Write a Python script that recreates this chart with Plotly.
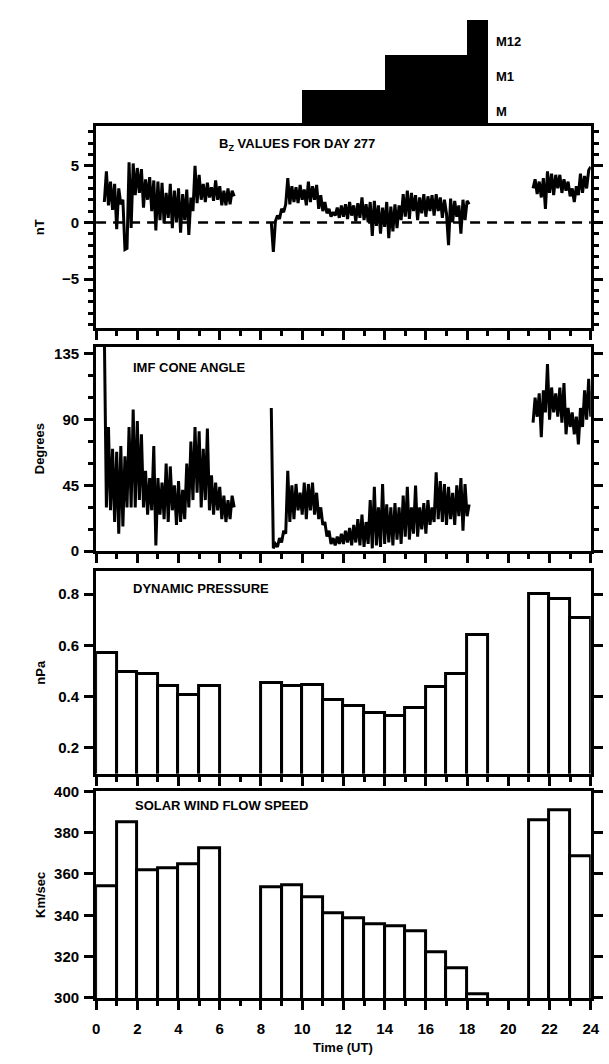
import plotly.graph_objects as go

# ---------------------------------------------------------------- data
SAMPLE_STEP = 0.1  # hours between plotted samples

# Bz (nT), three data intervals: start hour + samples
bz_start_1 = 0.4
bz_vals_1 = [1.8, 4.5, 1.5, 3.6, 1.1, 3.4, -0.6,
             3.0, 1.6, 2.0, -2.4, -2.3, 5.3, -0.5, 5.2, 2.4, 4.8,
             2.6, 4.7, 1.3, 3.8, 2.0, 4.0, 1.0, 3.7, -0.7, 3.6,
             0.2, 3.5, -0.1, 2.6, 0.4, 3.4, -0.5, 2.8, 0.0, 3.0,
             -0.9, 2.5, 0.2, 2.9, -1.1, 2.2, 1.0, 5.0, 1.7, 4.2,
             2.0, 3.4, 1.8, 3.5, 2.2, 3.1, 1.9, 3.7, 2.0, 3.2,
             1.5, 2.8, 1.5, 3.0, 1.6, 2.8, 2.3]
bz_start_2 = 8.5
bz_vals_2 = [0.0, -2.6, 0.1, 0.6, 0.3,
             1.2, 0.9, 1.6, 3.9, 1.6, 3.2, 1.8, 3.1, 1.7, 3.3,
             2.0, 2.9, 1.5, 3.6, 1.8, 3.2, 2.0, 3.3, 1.2, 2.4,
             1.0, 1.8, 0.8, 1.2, 0.5, 0.9, 0.6, 1.3, 0.4, 1.5,
             0.5, 1.6, 0.3, 1.8, 0.6, 1.5, 0.1, 1.7, 0.4, 2.2,
             0.2, 1.6, 0.0, 1.8, -1.2, 1.9, -0.3, 1.5, -1.0, 1.3,
             -0.4, 1.8, -1.4, 1.4, -0.8, 1.6, -0.5, 1.5, 0.2, 2.5,
             0.5, 2.8, 0.3, 2.6, 1.0, 2.4, 0.2, 2.2, 0.8, 2.5,
             0.5, 2.3, 1.0, 2.4, 0.6, 2.5, 1.0, 2.2, 0.4, 2.0,
             0.8, -2.0, 2.1, 0.0, 1.9, 0.5, 1.5, -1.0, 2.0, 0.2,
             1.9, 1.6]
bz_start_3 = 21.2
bz_vals_3 = [3.0, 3.8, 2.5, 3.6, 2.2, 3.9, 1.2, 4.5,
             2.6, 4.3, 2.4, 4.2, 3.0, 4.2, 2.6, 3.8, 2.8, 3.6,
             2.3, 3.0, 1.8, 3.2, 2.4, 4.3, 2.6, 4.1, 3.0, 4.6,
             4.9]

# IMF cone angle (degrees)
cone_start_1 = 0.4
cone_vals_1 = [150, 30, 85, 28, 70, 20, 68,
               12, 72, 17, 65, 30, 85, 30, 97, 30, 89,
               35, 80, 30, 55, 25, 50, 28, 72, 4, 50,
               25, 47, 22, 60, 20, 58, 28, 45, 18, 48,
               20, 42, 22, 60, 30, 75, 35, 85, 40, 82,
               30, 70, 35, 84, 28, 52, 25, 47, 28, 44,
               22, 38, 20, 35, 22, 38, 30]
cone_start_2 = 8.5
cone_vals_2 = [98, 2, 5, 3, 9,
               6, 14, 12, 55, 20, 45, 22, 46, 28, 40,
               25, 47, 22, 46, 28, 47, 25, 40, 22, 30,
               18, 20, 10, 14, 5, 9, 4, 10, 5, 12,
               5, 14, 6, 16, 4, 18, 6, 22, 4, 25,
               3, 20, 5, 35, 2, 44, 4, 30, 3, 46,
               5, 32, 6, 30, 4, 33, 8, 30, 5, 38,
               10, 44, 8, 30, 12, 45, 10, 30, 15, 33,
               12, 35, 18, 30, 20, 54, 22, 48, 20, 46,
               18, 44, 22, 40, 18, 45, 24, 50, 14, 46,
               24, 32]
cone_start_3 = 21.2
cone_vals_3 = [88, 105, 92, 108, 78, 110, 95, 128,
               90, 112, 95, 108, 92, 112, 88, 115, 80, 98,
               85, 95, 80, 92, 73, 98, 85, 110, 90, 118,
               92]

# Hourly averages: hour start (UT) and value
hour_start = [0, 1, 2, 3, 4, 5, 8, 9, 10, 11, 12, 13, 14, 15, 16, 17, 18, 21, 22, 23]
pressure_npa = [0.57, 0.495, 0.487, 0.442, 0.406, 0.44, 0.453, 0.442, 0.445, 0.386,
                0.362, 0.335, 0.324, 0.356, 0.438, 0.488, 0.642, 0.80, 0.78, 0.705]
speed_hour_start = [0, 1, 2, 3, 4, 5, 8, 9, 10, 11, 12, 13, 14, 15, 16, 17, 18, 21, 22, 23]
speed_kms = [353.9, 385.0, 361.8, 362.6, 364.6, 372.6, 353.6, 354.7, 348.6, 340.8,
             338.7, 335.5, 334.7, 332.0, 322.2, 314.4, 301.6, 385.8, 390.6, 368.3]

# Magnetometer coverage intervals
station_names = ["M", "M1", "M12"]
station_start = [10, 14, 18]
station_end = [19, 19, 19]

x_ticks = list(range(0, 25, 2))


def series(*segments):
    """Join (start, values) segments into x/y lists with gaps between them."""
    xs, ys = [], []
    for start, vals in segments:
        if xs:
            xs.append(None)
            ys.append(None)
        for i, v in enumerate(vals):
            xs.append(round(start + i * SAMPLE_STEP, 3))
            ys.append(v)
    return xs, ys


bz_x, bz_y = series((bz_start_1, bz_vals_1), (bz_start_2, bz_vals_2), (bz_start_3, bz_vals_3))
cone_x, cone_y = series((cone_start_1, cone_vals_1), (cone_start_2, cone_vals_2),
                        (cone_start_3, cone_vals_3))

# ---------------------------------------------------------------- figure
FONT = "Liberation Sans, Arial, Helvetica, sans-serif"
BLACK = "#000000"

fig = go.Figure()

# station coverage staircase
fig.add_trace(go.Bar(
    y=station_names,
    x=[e - s for s, e in zip(station_start, station_end)],
    base=station_start,
    orientation="h",
    marker=dict(color=BLACK, line=dict(width=0)),
    xaxis="x", yaxis="y",
))

fig.add_trace(go.Scatter(x=bz_x, y=bz_y, mode="lines",
                         line=dict(color=BLACK, width=3),
                         connectgaps=False, xaxis="x2", yaxis="y2"))

fig.add_trace(go.Scatter(x=cone_x, y=cone_y, mode="lines",
                         line=dict(color=BLACK, width=3),
                         connectgaps=False, xaxis="x3", yaxis="y3"))

fig.add_trace(go.Bar(x=hour_start, y=pressure_npa, width=1, offset=0,
                     marker=dict(color="white", line=dict(color=BLACK, width=3)),
                     xaxis="x4", yaxis="y4"))

fig.add_trace(go.Bar(x=speed_hour_start, y=speed_kms, width=1, offset=0,
                     marker=dict(color="white", line=dict(color=BLACK, width=3)),
                     xaxis="x5", yaxis="y5"))

X_DOMAIN = [0.1545, 0.9845]
tick_font = dict(family=FONT, size=15, color=BLACK, weight="bold")


def panel_x(show_labels=False):
    return dict(
        domain=X_DOMAIN, range=[0, 24], showline=True, linewidth=3, linecolor=BLACK,
        mirror=True, ticks="outside", ticklen=9, tickwidth=3, tickcolor=BLACK,
        tickmode="array", tickvals=x_ticks, showticklabels=show_labels,
        tickfont=tick_font, showgrid=False, zeroline=False, ticklabelstandoff=6,
        minor=dict(dtick=1, tick0=0, ticks="outside", ticklen=5, tickwidth=3,
                   tickcolor=BLACK, showgrid=False),
    )


def panel_y(domain, rng, dtick, minor_dtick=None, fmt=None):
    ax = dict(
        domain=domain, range=rng, showline=True, linewidth=3, linecolor=BLACK,
        mirror="ticks", ticks="outside", ticklen=9, tickwidth=3, tickcolor=BLACK,
        dtick=dtick, tick0=0, tickfont=tick_font, showgrid=False, zeroline=False,
        ticklabelstandoff=2,
    )
    if fmt:
        ax["tickformat"] = fmt
    if minor_dtick:
        ax["minor"] = dict(dtick=minor_dtick, tick0=0, ticks="outside", ticklen=5,
                           tickwidth=3, tickcolor=BLACK, showgrid=False)
    return ax


fig.update_layout(
    width=609, height=1064,
    margin=dict(l=0, r=0, t=0, b=0),
    paper_bgcolor="white", plot_bgcolor="white",
    showlegend=False, bargap=0,
    font=dict(family=FONT, color=BLACK),
    xaxis=dict(domain=X_DOMAIN, range=[0, 24], visible=False, anchor="y"),
    yaxis=dict(domain=[0.8891, 0.9897], range=[-0.5, 2.5], visible=False,
               categoryorder="array", categoryarray=station_names, anchor="x"),
    xaxis2=dict(panel_x(), anchor="y2"),
    yaxis2=dict(panel_y([0.6955, 0.8882], [-9.3, 8.5], 5, 1), anchor="x2"),
    xaxis3=dict(panel_x(), anchor="y3"),
    yaxis3=dict(panel_y([0.4821, 0.6776], [0, 140], 45, 15), anchor="x3"),
    xaxis4=dict(panel_x(), anchor="y4"),
    yaxis4=dict(panel_y([0.2697, 0.4633], [0.1, 0.89], 0.2, fmt=".1f"), anchor="x4"),
    xaxis5=dict(panel_x(True), anchor="y5"),
    yaxis5=dict(panel_y([0.0555, 0.2528], [300, 400], 20), anchor="x5"),
)

# dashed zero reference in the Bz panel
fig.add_shape(type="line", xref="x2 domain", x0=0, x1=1, yref="y2", y0=0, y1=0,
              line=dict(color=BLACK, width=2.5, dash="10px,7px"))

label_font = dict(family=FONT, size=13, color=BLACK)

# station labels at the right end of each coverage bar
for name, end in zip(station_names, station_end):
    fig.add_annotation(x=end, y=name, xref="x", yref="y", text="<b>%s</b>" % name,
                       showarrow=False, xanchor="left", xshift=6, yshift=-4,
                       font=dict(family=FONT, size=13, color=BLACK))

# panel titles
titles = [
    ("x2", "y2", 0.245, 0.91, "<b>B<sub>Z</sub> VALUES FOR DAY 277</b>"),
    ("x3", "y3", 0.07, 0.9, "<b>IMF CONE ANGLE</b>"),
    ("x4", "y4", 0.07, 0.912, "<b>DYNAMIC PRESSURE</b>"),
    ("x5", "y5", 0.075, 0.93, "<b>SOLAR WIND FLOW SPEED</b>"),
]
for xr, yr, xp, yp, txt in titles:
    fig.add_annotation(xref=xr + " domain", yref=yr + " domain", x=xp, y=yp, text=txt,
                       showarrow=False, xanchor="left", yanchor="middle", font=label_font)

# y-axis titles
for yr, txt in [("y2", "nT"), ("y3", "Degrees"), ("y4", "nPa"), ("y5", "Km/sec")]:
    fig.add_annotation(xref="paper", yref=yr + " domain", x=0.061, y=0.5,
                       text="<b>%s</b>" % txt, textangle=-90, showarrow=False,
                       xanchor="center", yanchor="middle", font=label_font)

fig.add_annotation(xref="x5 domain", yref="paper", x=0.5, y=0.0085, text="<b>Time (UT)</b>",
                   showarrow=False, xanchor="center", yanchor="middle",
                   font=dict(family=FONT, size=13, color=BLACK))

fig.write_html("out.html")
